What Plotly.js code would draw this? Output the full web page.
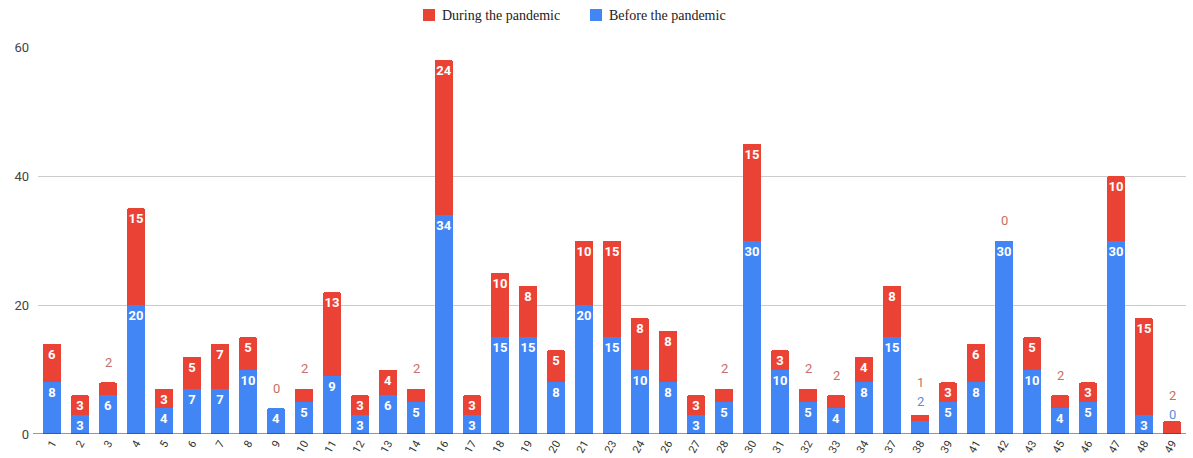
<!DOCTYPE html>
<html>
<head>
<meta charset="utf-8">
<script src="https://cdn.plot.ly/plotly-3.0.1.min.js"></script>
<style>html,body{margin:0;padding:0;background:#fff}#chart{width:1193px;height:458px}</style>
</head>
<body>
<div id="chart"></div>
<script>
const categories = ["1","2","3","4","5","6","7","8","9","10","11","12","13","14","16","17","18","19","20","21","23","24","26","27","28","30","31","32","33","34","37","38","39","41","42","43","45","46","47","48","49"];
const beforePandemic = [8,3,6,20,4,7,7,10,4,5,9,3,6,5,34,3,15,15,8,20,15,10,8,3,5,30,10,5,4,8,15,2,5,8,30,10,4,5,30,3,0];
const duringPandemic = [6,3,2,15,3,5,7,5,0,2,13,3,4,2,24,3,10,8,5,10,15,8,8,3,2,15,3,2,2,4,8,1,3,6,0,5,2,3,10,15,2];
const yTicks = [0,20,40,60];
const seriesNames = ["During the pandemic", "Before the pandemic"];

const BLUE = '#4285F4', RED = '#EA4335';
const MIN_INSIDE = 3;

const insideText = arr => arr.map(v => v >= MIN_INSIDE ? String(v) : '');
const labelFont = {family: 'Roboto, Arial, sans-serif', size: 13, color: '#ffffff', weight: 'bold'};

const before = {
  type: 'bar', name: seriesNames[1], x: categories, y: beforePandemic,
  marker: {color: BLUE},
  text: insideText(beforePandemic), textposition: 'inside', insidetextanchor: 'end',
  textangle: 0, constraintext: 'none', insidetextfont: labelFont,
  hoverinfo: 'x+y+name', showlegend: false
};
const during = {
  type: 'bar', name: seriesNames[0], x: categories, y: duringPandemic,
  marker: {color: RED},
  text: insideText(duringPandemic), textposition: 'inside', insidetextanchor: 'end',
  textangle: 0, constraintext: 'none', insidetextfont: labelFont,
  hoverinfo: 'x+y+name', showlegend: false
};

const annotations = [];
categories.forEach((c, i) => {
  const b = beforePandemic[i], d = duringPandemic[i];
  const bOut = b < MIN_INSIDE, dOut = d < MIN_INSIDE;
  if (bOut) {
    annotations.push({x: i, y: b, xref: 'x', yref: 'y', text: String(b), showarrow: false,
      yanchor: 'middle', yshift: 20, font: {family: 'Roboto, Arial, sans-serif', size: 13, color: '#5b8ee0'}});
  }
  if (dOut) {
    annotations.push({x: i, y: bOut ? b : b + d, xref: 'x', yref: 'y', text: String(d), showarrow: false,
      yanchor: 'middle', yshift: bOut ? 39 : 20, font: {family: 'Roboto, Arial, sans-serif', size: 13, color: '#c96e63'}});
  }
});

// custom legend (square swatches, tight gap as in the reference)
const legendFont = {family: '"Liberation Serif", "Times New Roman", serif', size: 14, color: '#222222'};
const legendItems = [
  {name: seriesNames[0], color: RED, x0: 423},
  {name: seriesNames[1], color: BLUE, x0: 590}
];
const shapes = [];
legendItems.forEach(it => {
  shapes.push({type: 'rect', xref: 'paper', yref: 'paper', xsizemode: 'pixel', ysizemode: 'pixel',
    xanchor: (it.x0 - 38) / 1148, yanchor: 1, x0: 0, x1: 12, y0: 26, y1: 38,
    fillcolor: it.color, line: {width: 0}});
  annotations.push({xref: 'paper', yref: 'paper', x: (it.x0 - 38) / 1148, y: 1, xshift: 17, yshift: 32,
    xanchor: 'left', yanchor: 'middle', text: it.name, showarrow: false, font: legendFont});
});
// baseline extends slightly left of the plot area, as in the reference
shapes.push({type: 'line', xref: 'paper', yref: 'y', xsizemode: 'pixel', xanchor: 0, x0: -5, x1: 1153 - 5,
  y0: 0, y1: 0, line: {color: '#333333', width: 1}, layer: 'above'});

const layout = {
  width: 1193, height: 458,
  margin: {l: 38, r: 7, t: 47, b: 24, pad: 0},
  paper_bgcolor: '#ffffff', plot_bgcolor: '#ffffff',
  barmode: 'stack', bargap: 0.36, barcornerradius: 2,
  showlegend: false,
  xaxis: {type: 'category', tickangle: -60, automargin: false,
    tickfont: {family: 'Roboto, Arial, sans-serif', size: 11, color: '#333333'},
    showline: false, ticks: '', showgrid: false, fixedrange: true},
  yaxis: {range: [0, 60], tickvals: yTicks, ticktext: yTicks.map(String), automargin: false,
    tickfont: {family: 'Roboto, Arial, sans-serif', size: 13, color: '#444444'},
    showgrid: true, gridcolor: '#cccccc', gridwidth: 1, zeroline: false, ticks: '',
    ticklabelstandoff: 8, fixedrange: true},
  annotations: annotations,
  shapes: shapes,
  font: {family: 'Roboto, Arial, sans-serif'}
};

Plotly.newPlot('chart', [before, during], layout, {displayModeBar: false, staticPlot: true});
</script>
</body>
</html>
